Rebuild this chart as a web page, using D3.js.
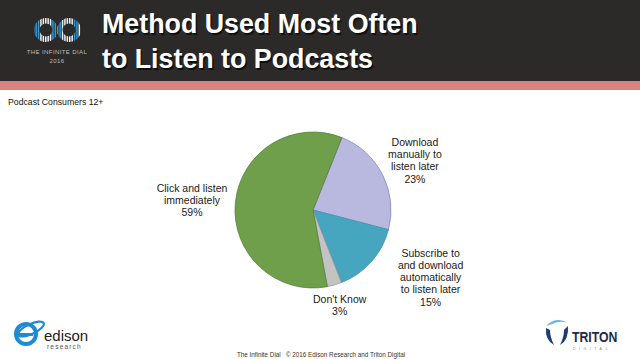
<!DOCTYPE html>
<html>
<head>
<meta charset="utf-8">
<script src="https://cdn.jsdelivr.net/npm/d3@7"></script>
<style>
html,body{margin:0;padding:0;background:#fff;}
svg{display:block;font-family:Arial,"Liberation Sans",sans-serif;}
</style>
</head>
<body>
<svg id="chart" width="640" height="359"></svg>
<script>
// ---- data ----
const categories = ["Download manually to listen later", "Subscribe to and download automatically to listen later", "Don't Know", "Click and listen immediately"];
const values = [23, 15, 3, 59];
const labelLines = [
  ["Download", "manually to", "listen later"],
  ["Subscribe to", "and download", "automatically", "to listen later"],
  ["Don't Know"],
  ["Click and listen", "immediately"]
];
const titleLines = ["Method Used Most Often", "to Listen to Podcasts"];
const subtitle = "Podcast Consumers 12+";
const footer = "The Infinite Dial   \u00A9 2016 Edison Research and Triton Digital";

// ---- styles / layout ----
const fills = ["#b9b9df", "#46a6c0", "#c3c3c3", "#6f9f4b"];
const strokes = ["#7d7dc4", "#3b8ea6", "#8f8f8f", "#4f7a33"];
const W = 640, H = 359;
const cx = 313, cy = 210, R = 78;
const startDeg = 21.8;
const labelNudge = {1: [22, -19.5], 3: [-2, 0]};

const svg = d3.select("#chart");
svg.append("rect").attr("width", W).attr("height", H).attr("fill", "#fff");

// header
svg.append("rect").attr("x", 0).attr("y", 0).attr("width", W).attr("height", 81).attr("fill", "#2b2a29");
svg.append("rect").attr("x", 0).attr("y", 81).attr("width", W).attr("height", 9).attr("fill", "#d8837f");

const tg = svg.append("g");
titleLines.forEach((t, i) => {
  tg.append("text").attr("x", 103.5).attr("y", 34.5 + i * 35).attr("fill", "#000").attr("opacity", 0.6)
    .attr("font-size", 26.8).attr("font-weight", "bold").text(t);
  tg.append("text").attr("x", 102).attr("y", 33 + i * 35).attr("fill", "#fff")
    .attr("font-size", 26.8).attr("font-weight", "bold").text(t);
});

// Infinite Dial logo (simplified)
const defs = svg.append("defs");
const clip = defs.append("clipPath").attr("id", "inf");
[[46, 30], [69, 30]].forEach(([x, y]) => {
  const p = d3.path();
  p.arc(x, y, 12, 0, 2 * Math.PI);
  p.moveTo(x + 6.5, y);
  p.arc(x, y, 6.5, 0, 2 * Math.PI, true);
  clip.append("path").attr("d", p.toString()).attr("clip-rule", "evenodd");
});
const lg = svg.append("g").attr("clip-path", "url(#inf)");
d3.range(33, 83, 2.4).forEach((x, i) => {
  const blue = (x < 40) || (x > 50 && x < 60) || (x > 72 && x < 78);
  lg.append("rect").attr("x", x).attr("y", 16).attr("width", 1.5).attr("height", 28)
    .attr("fill", blue ? "#2f9ad6" : "#f2f2f2");
});
svg.append("text").attr("x", 57).attr("y", 54).attr("text-anchor", "middle").attr("fill", "#bdbdbd")
  .attr("font-size", 6).attr("letter-spacing", 0.4).text("THE INFINITE DIAL");
svg.append("text").attr("x", 57).attr("y", 63).attr("text-anchor", "middle").attr("fill", "#bdbdbd")
  .attr("font-size", 6).attr("letter-spacing", 0.4).text("2016");

// subtitle
svg.append("text").attr("x", 8).attr("y", 105).attr("font-size", 8.7).attr("fill", "#111").text(subtitle);

// pie
const pie = d3.pie().sort(null).value(d => d)
  .startAngle(startDeg * Math.PI / 180).endAngle(startDeg * Math.PI / 180 + 2 * Math.PI);
const arcs = pie(values);
const arc = d3.arc().innerRadius(0).outerRadius(R);
const pg = svg.append("g").attr("transform", `translate(${cx},${cy})`);
pg.selectAll("path").data(arcs).enter().append("path")
  .attr("d", arc).attr("fill", (d, i) => fills[i]).attr("stroke", (d, i) => strokes[i]).attr("stroke-width", 0.7);

// labels
const fs = 10.5, lh = 12.3, gap = 6;
arcs.forEach((a, i) => {
  const lines = labelLines[i].concat([d3.format(".0f")(a.data) + "%"]);
  const g = svg.append("g");
  const t = g.append("text").attr("font-size", fs).attr("fill", "#1a1a1a").attr("text-anchor", "middle");
  lines.forEach((l, j) => t.append("tspan").attr("x", 0).attr("y", j * lh).text(l));
  const bb = t.node().getBBox();
  const w = bb.width, h = lines.length * lh;
  const mid = (a.startAngle + a.endAngle) / 2;
  const sx = Math.sin(mid), sy = -Math.cos(mid);
  const ext = Math.min(Math.abs(sx) > 1e-6 ? (w / 2) / Math.abs(sx) : 1e9, Math.abs(sy) > 1e-6 ? (h / 2) / Math.abs(sy) : 1e9);
  const r = R + gap + ext;
  const nud = labelNudge[i] || [0, 0];
  const bx = cx + sx * r + nud[0], by = cy + sy * r + nud[1];
  g.attr("transform", `translate(${bx},${by - h / 2 + fs * 0.8 + 3.5})`);
});

// footer
svg.append("text").attr("x", 321).attr("y", 357).attr("text-anchor", "middle").attr("font-size", 6.3)
  .style("white-space", "pre").attr("fill", "#3d3320").text(footer);

// Edison logo (simplified)
const eg = svg.append("g");
eg.append("circle").attr("cx", 26).attr("cy", 334).attr("r", 10).attr("fill", "none").attr("stroke", "#1e8bd3").attr("stroke-width", 4);
eg.append("ellipse").attr("cx", 31).attr("cy", 329).attr("rx", 14).attr("ry", 5).attr("transform", "rotate(-25 31 329)")
  .attr("fill", "none").attr("stroke", "#1e8bd3").attr("stroke-width", 2.2);
eg.append("rect").attr("x", 15).attr("y", 333).attr("width", 18).attr("height", 3).attr("fill", "#1e8bd3");
eg.append("text").attr("x", 44).attr("y", 341).attr("font-size", 15).attr("fill", "#222").text("edison");
eg.append("text").attr("x", 47).attr("y", 349).attr("font-size", 6.5).attr("letter-spacing", 1.2).attr("fill", "#555").text("research");

// Triton logo (simplified)
const trg = svg.append("g");
trg.append("path").attr("d", "M546,326 Q556,316 568,323 Q560,320 552,324 Z").attr("fill", "#6fb3e0");
trg.append("path").attr("d", "M546,328 Q545,340 554,345 Q550,337 550,330 Z").attr("fill", "#1c3d73");
trg.append("path").attr("d", "M568,326 Q569,340 560,345 Q564,337 564,330 Z").attr("fill", "#1c3d73");
trg.append("text").attr("x", 572).attr("y", 342).attr("font-size", 15).attr("font-weight", "bold")
  .attr("fill", "#1d2b4c").attr("transform", "translate(572,0) scale(0.82,1) translate(-572,0)").text("TRITON");
trg.append("text").attr("x", 573).attr("y", 350).attr("font-size", 3.5).attr("letter-spacing", 3.5)
  .attr("fill", "#888").text("DIGITAL");
</script>
</body>
</html>
